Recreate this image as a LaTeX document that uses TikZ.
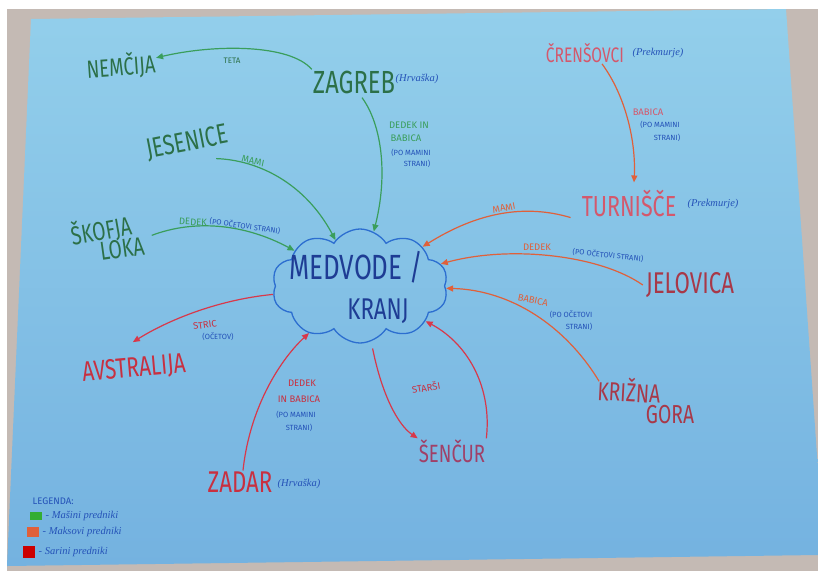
\documentclass[tikz,border=0pt]{standalone}
\usepackage{fontspec}
\setmainfont{Fira Sans}
\newfontfamily\hand{Fira Sans}[FakeStretch=0.74]
\newfontfamily\scr{Liberation Serif}
\usetikzlibrary{arrows.meta,shapes.symbols}
\definecolor{paper}{HTML}{93CFEB}
\definecolor{paperlo}{HTML}{74B2E0}
\definecolor{bg}{HTML}{C4BAB4}
\definecolor{gtext}{HTML}{2C7048}
\definecolor{garr}{HTML}{3A9E5C}
\definecolor{btext}{HTML}{2452B8}
\definecolor{mtext}{HTML}{1E3C94}
\definecolor{cloudc}{HTML}{2C6ED0}
\definecolor{oarr}{HTML}{E0603A}
\definecolor{rarr}{HTML}{D8384A}
\definecolor{ptext}{HTML}{D4586C}
\definecolor{rtext}{HTML}{C83040}
\definecolor{dtext}{HTML}{A83848}
\definecolor{stext}{HTML}{A04068}
\tikzset{
  city/.style={inner sep=1pt, font=\hand\fontsize{#1}{#1}\selectfont},
  lbl/.style={inner sep=0.5pt, font=\fontsize{9.5}{10}\selectfont},
  ann/.style={inner sep=0.5pt, text=btext, font=\fontsize{7.5}{8}\selectfont},
  reg/.style={inner sep=0.5pt, text=btext, font=\scr\itshape\fontsize{10.5}{11}\selectfont},
  conn/.style={line width=1.2pt, -{Triangle[length=7pt,width=6pt]}},
  leg/.style={inner sep=0.5pt, anchor=west, text=btext, font=\scr\itshape\fontsize{10.5}{11}\selectfont},
}
\begin{document}
\begin{tikzpicture}[x=1pt,y=-1pt]
\useasboundingbox (0,0) rectangle (818,571);
\fill[white] (0,0) rectangle (818,571);
\fill[bg] (7,9) rectangle (818,571);
\shade[top color=paper,bottom color=paperlo] (31,19) -- (786,9) -- (818,470) -- (818,555) -- (7,566) -- cycle;

% central cloud
\node[shape=cloud, cloud puffs=10, cloud puff arc=115, aspect=1.55, minimum width=176pt, minimum height=114pt, draw=cloudc, line width=1.3pt, inner sep=0pt] (medvode) at (360,286) {};
\node[city=35, text=mtext] (medvodet) at (356,267) {MEDVODE /};
\node[city=30, text=mtext] (kranj) at (378,311) {KRANJ};

% green places
\node[city=25, text=gtext, rotate=4] (nemcija) at (121,66) {NEMČIJA};
\node[city=32, text=gtext] (zagreb) at (354,82) {ZAGREB};
\node[reg] (zagrebreg) at (417,79) {(Hrvaška)};
\node[city=28, text=gtext, rotate=11] (jesenice) at (187,143) {JESENICE};
\node[city=26, text=gtext, rotate=10] (skofja) at (101,230) {ŠKOFJA};
\node[city=26, text=gtext, rotate=8] (loka) at (122,249) {LOKA};

% orange / pink places
\node[city=21, text=ptext] (crensovci) at (585,53) {ČRENŠOVCI};
\node[reg] (crensreg) at (658,53) {(Prekmurje)};
\node[city=29, text=ptext] (turnisce) at (629,203) {TURNIŠČE};
\node[reg] (turnreg) at (713,204) {(Prekmurje)};
\node[city=30, text=dtext] (jelovica) at (690,285) {JELOVICA};
\node[city=26, text=dtext, rotate=-3] (krizna) at (629,390) {KRIŽNA};
\node[city=26, text=dtext] (gora) at (670,415) {GORA};

% red places
\node[city=28, text=rtext, rotate=5] (avstralija) at (134,369) {AVSTRALIJA};
\node[city=30, text=rtext] (zadar) at (240,482) {ZADAR};
\node[reg] (zadarreg) at (299,484) {(Hrvaška)};
\node[city=25, text=stext] (sencur) at (452,451) {ŠENČUR};

% connectors
\draw[conn,garr] (zagreb.north west) .. controls (290,44) and (215,44) .. (nemcija);
\draw[conn,garr] ([shift={(8pt,-3pt)}]zagreb.south) .. controls (382,125) and (388,175) .. (medvode);
\draw[conn,garr] ([shift={(-15pt,-11pt)}]jesenice.south east) .. controls (258,160) and (305,183) .. (medvode);
\draw[conn,garr] ([xshift=8pt]loka.north east) .. controls (195,219) and (245,224) .. (medvode);
\draw[conn,rarr] (medvode) .. controls (215,300) and (165,322) .. ([yshift=14pt]avstralija.north);
\draw[conn,rarr] ([xshift=3pt]zadar.north) .. controls (250,405) and (282,358) .. (medvode);
\draw[conn,rarr, shorten <=7pt] (medvode) .. controls (382,395) and (398,425) .. (sencur.north west);
\draw[conn,rarr] (sencur.north east) .. controls (492,390) and (470,345) .. (medvode);
\draw[conn,oarr] ([xshift=-10pt]turnisce.south west) .. controls (525,204) and (478,212) .. (medvode);
\draw[conn,oarr] ([xshift=-2pt]jelovica.west) .. controls (600,255) and (510,245) .. (medvode);
\draw[conn,oarr] ([shift={(2pt,-6pt)}]krizna.north west) .. controls (565,325) and (510,290) .. (medvode);
\draw[conn,oarr] ([xshift=17pt]crensovci.south) .. controls (625,95) and (636,140) .. ([shift={(5pt,6pt)}]turnisce.north);

% connector labels
\node[lbl, text=gtext, font=\fontsize{8}{9}\selectfont] (teta) at (232,61) {TETA};
\node[lbl, text=garr, rotate=-12] (mami1) at (253,161) {MAMI};
\node[lbl, text=garr] (zl1) at (409,125) {DEDEK IN};
\node[lbl, text=garr] (zl2) at (406,138) {BABICA};
\node[ann] (zl3) at (411,153) {(PO MAMINI};
\node[ann] (zl4) at (417,164) {STRANI)};
\node[lbl, text=garr, rotate=-3] (sl1) at (193,222) {DEDEK};
\node[ann, rotate=-8] (sl2) at (245,226) {(PO OČETOVI STRANI)};
\node[lbl, text=rtext, rotate=8] (al1) at (205,325) {STRIC};
\node[ann] (al2) at (218,337) {(OČETOV)};
\node[lbl, text=rtext] (dl1) at (302,383) {DEDEK};
\node[lbl, text=rtext] (dl2) at (299,399) {IN BABICA};
\node[ann] (dl3) at (296,415) {(PO MAMINI};
\node[ann] (dl4) at (299,428) {STRANI)};
\node[lbl, text=rtext, rotate=10] (starsi) at (426,387) {STARŠI};
\node[lbl, text=oarr, rotate=10] (mami2) at (504,208) {MAMI};
\node[lbl, text=oarr] (jl1) at (537,247) {DEDEK};
\node[ann, rotate=-6] (jl2) at (608,255) {(PO OČETOVI STRANI)};
\node[lbl, text=oarr, rotate=-12] (kl1) at (533,300) {BABICA};
\node[ann] (kl2) at (571,315) {(PO OČETOVI};
\node[ann] (kl3) at (579,327) {STRANI)};
\node[lbl, text=ptext] (cl1) at (648,112) {BABICA};
\node[ann] (cl2) at (660,125) {(PO MAMINI};
\node[ann] (cl3) at (667,138) {STRANI)};

% legend
\node[lbl, text=btext, anchor=west] (legenda) at (32,501) {LEGENDA:};
\fill[green!60!black!80] (30,512) rectangle (42,520);
\fill[oarr] (27,527) rectangle (39,537);
\fill[red!80!black] (23,546) rectangle (35,558);
\node[leg] (leg1) at (45,516) {- Mašini predniki};
\node[leg] (leg2) at (42,532) {- Maksovi predniki};
\node[leg] (leg3) at (38,552) {- Sarini predniki};
\end{tikzpicture}
\end{document}
